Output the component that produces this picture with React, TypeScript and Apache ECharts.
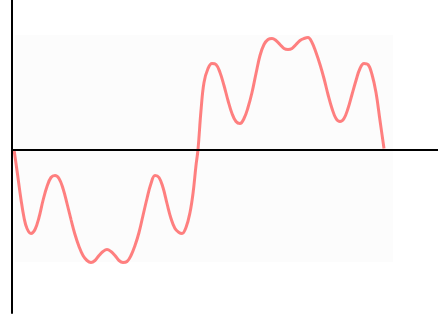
import React, { useEffect, useRef } from "react";
import * as echarts from "echarts";

// sample positions (horizontal units) and curve values
const tValues: number[] = [
  0, 3, 7, 10, 13, 17, 21, 25, 29, 33, 37, 41, 45, 49, 53, 57, 61, 65, 69, 73,
  77, 81, 85, 89, 93, 97, 101, 105, 109, 113, 117, 121, 125, 129, 133, 137, 141,
  145, 149, 153, 157, 161, 165, 168, 172, 176, 179, 182, 184,
  187, 190, 194, 198, 202, 206, 210, 214, 218, 222, 226, 230, 234, 238, 242, 246,
  250, 254, 258, 262, 266, 270, 274, 278, 282, 286, 290, 294, 298, 302, 306, 310,
  314, 318, 322, 326, 330, 334, 338, 342, 346, 350, 354, 358, 362, 366, 370,
];
const yValues: number[] = [
  0, -0.21, -0.5, -0.68, -0.79, -0.84, -0.8, -0.68, -0.51, -0.37, -0.28, -0.26,
  -0.29, -0.39, -0.54, -0.7, -0.85, -0.97, -1.06, -1.11, -1.13, -1.11, -1.06,
  -1.02, -1.0, -1.02, -1.06, -1.11, -1.13, -1.12, -1.06, -0.96, -0.83, -0.66,
  -0.49, -0.34, -0.26, -0.28, -0.38, -0.54, -0.69, -0.79, -0.83, -0.84, -0.78,
  -0.63, -0.44, -0.16, 0,
  0.39, 0.67, 0.81, 0.86, 0.85, 0.77, 0.64, 0.49, 0.36, 0.28, 0.26, 0.31, 0.42,
  0.57, 0.76, 0.94, 1.05, 1.1, 1.11, 1.09, 1.05, 1.01, 1.0, 1.01, 1.05, 1.09,
  1.11, 1.12, 1.07, 0.97, 0.85, 0.71, 0.55, 0.41, 0.31, 0.28, 0.31, 0.41, 0.55,
  0.69, 0.81, 0.86, 0.85, 0.75, 0.57, 0.29, 0.01,
];
// faint background band extent
const bandX: number[] = [1, 379];
const bandY: number[] = [-1.125, 1.145];

export default function App() {
  const ref = useRef<HTMLDivElement>(null);
  useEffect(() => {
    if (!ref.current) return;
    const chart = echarts.init(ref.current, undefined, { renderer: "svg" });
    const data = tValues.map((t, i) => [t, yValues[i]]);
    chart.setOption({
      animation: false,
      backgroundColor: "#ffffff",
      grid: { left: 12, right: 0, top: 0, bottom: 7 },
      xAxis: {
        type: "value",
        min: -2,
        max: 424,
        z: 10,
        axisLine: { show: true, onZero: true, lineStyle: { color: "#000", width: 2 } },
        axisTick: { show: false },
        axisLabel: { show: false },
        splitLine: { show: false },
      },
      yAxis: {
        type: "value",
        min: -1.635,
        max: 1.495,
        z: 10,
        axisLine: { show: true, onZero: false, lineStyle: { color: "#000", width: 2 } },
        axisTick: { show: false },
        axisLabel: { show: false },
        splitLine: { show: false },
      },
      series: [
        {
          type: "line",
          data,
          smooth: 0.4,
          showSymbol: false,
          z: 3,
          lineStyle: { color: "#ff5555", width: 3, opacity: 0.75 },
          markArea: {
            silent: true,
            itemStyle: { color: "#fcfcfc" },
            data: [[{ coord: [bandX[0], bandY[1]] }, { coord: [bandX[1], bandY[0]] }]],
          },
        },
      ],
    });
    return () => chart.dispose();
  }, []);
  return (
    <div
      ref={ref}
      style={{ position: "fixed", left: 0, top: 0, width: 438, height: 320 }}
    />
  );
}
